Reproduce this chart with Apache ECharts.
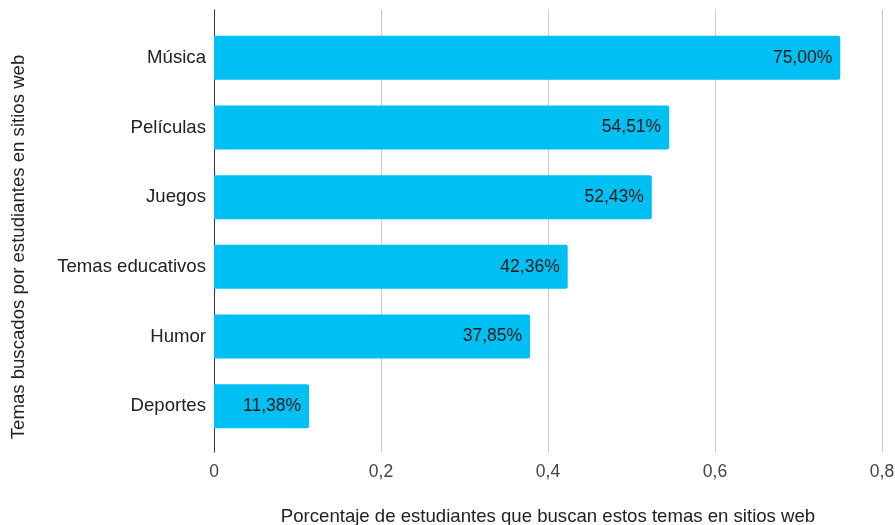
<!DOCTYPE html>
<html>
<head>
<meta charset="utf-8">
<script src="https://cdn.jsdelivr.net/npm/echarts@6/dist/echarts.min.js"></script>
<style>
  html, body { margin: 0; padding: 0; background: #fff; }
  #chart { width: 895px; height: 525px; }
</style>
</head>
<body>
<div id="chart"></div>
<script>
const temas = ["Música", "Películas", "Juegos", "Temas educativos", "Humor", "Deportes"];
const porcentajes = [0.75, 0.5451, 0.5243, 0.4236, 0.3785, 0.1138];

const font = "'Liberation Sans', Arial, sans-serif";
const comma = (v) => String(v).replace(".", ",");

const chart = echarts.init(document.getElementById("chart"), null, { renderer: "canvas" });
chart.setOption({
  animation: false,
  grid: [
    { top: 10, bottom: 73, left: 214, right: 13, outerBoundsMode: "none" },
    { top: 23, bottom: 84, left: 214, right: 13, outerBoundsMode: "none" },
  ],
  xAxis: [
    {
      gridIndex: 0,
      type: "value",
      min: 0,
      max: 0.8,
      interval: 0.2,
      name: "Porcentaje de estudiantes que buscan estos temas en sitios web",
      nameLocation: "middle",
      nameGap: 55,
      nameTextStyle: { fontFamily: font, fontSize: 18.6, color: "#222" },
      axisLine: { show: false },
      axisTick: { show: false },
      axisLabel: { fontFamily: font, fontSize: 17.5, color: "#444", margin: 11, formatter: comma },
      splitLine: { lineStyle: { color: "#cccccc", width: 1 } },
    },
    { gridIndex: 1, type: "value", min: 0, max: 0.8, show: false },
  ],
  yAxis: [
    {
      gridIndex: 0,
      type: "value",
      name: "Temas buscados por estudiantes en sitios web",
      nameLocation: "middle",
      nameGap: 186,
      nameTextStyle: { fontFamily: font, fontSize: 18.6, color: "#222", padding: [0, 32, 0, 0] },
      axisLine: { show: true, lineStyle: { color: "#333", width: 1 } },
      axisTick: { show: false },
      axisLabel: { show: false },
      splitLine: { show: false },
    },
    {
      gridIndex: 1,
      type: "category",
      inverse: true,
      data: temas,
      axisLine: { show: false },
      axisTick: { show: false },
      axisLabel: { fontFamily: font, fontSize: 18.6, color: "#222", margin: 8 },
    },
  ],
  series: [{
    type: "bar",
    xAxisIndex: 1,
    yAxisIndex: 1,
    data: porcentajes,
    barWidth: 44,
    itemStyle: { color: "#00bff3", borderRadius: [0, 2, 2, 0] },
    label: {
      show: true,
      position: "insideRight",
      distance: 8,
      fontFamily: font,
      fontSize: 17.5,
      color: "#1a1a1a",
      formatter: (p) => (p.value * 100).toFixed(2).replace(".", ",") + "%",
    },
  }],
});
</script>
</body>
</html>
